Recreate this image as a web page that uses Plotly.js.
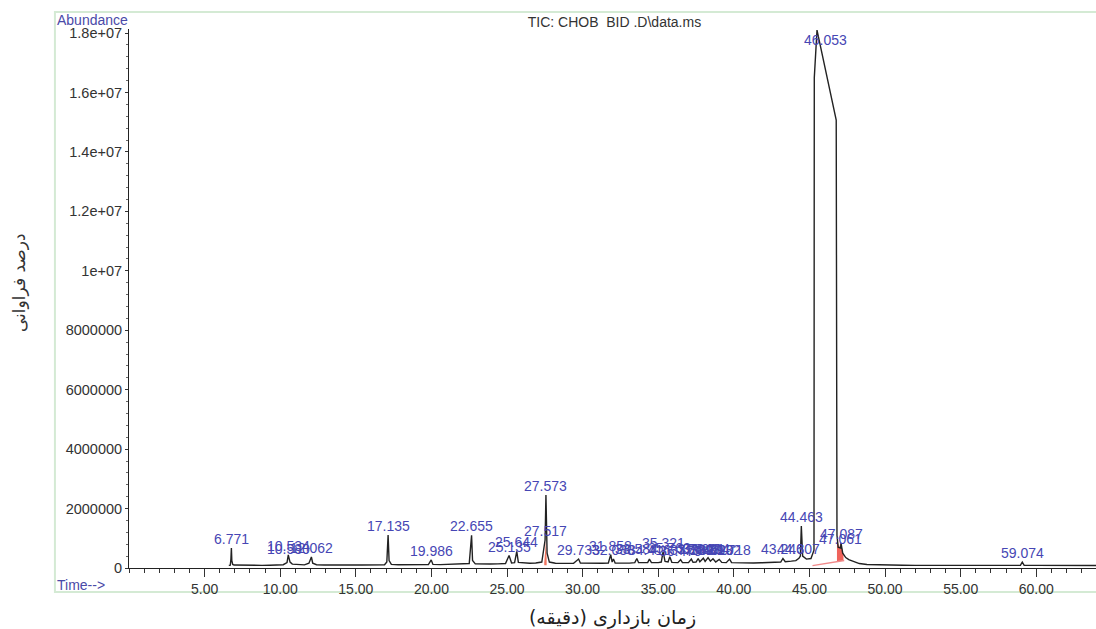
<!DOCTYPE html>
<html>
<head>
<meta charset="utf-8">
<script src="https://cdn.plot.ly/plotly-3.0.1.min.js"></script>
<style>html,body{margin:0;padding:0;background:#fff;}#chart{width:1096px;height:629px;}</style>
</head>
<body>
<div id="chart"></div>
<script>
// Total ion chromatogram (retention time in minutes, abundance)
const ticTime = [
  6.60, 6.70, 6.74, 6.771, 6.80, 6.86, 6.95, 7.30, 7.80, 8.30, 8.80, 9.30, 9.80,
  10.20, 10.45, 10.534, 10.580, 10.65, 10.80, 11.20, 11.60, 11.90, 12.062, 12.15, 12.40,
  12.90, 13.40, 13.90, 14.40, 14.90, 15.40, 15.90, 16.40, 16.90, 17.05, 17.135, 17.20,
  17.35, 17.80, 18.30, 18.80, 19.30, 19.80, 19.986, 20.10, 20.60, 21.10, 21.60, 22.10,
  22.50, 22.655, 22.72, 22.90, 23.40, 23.90, 24.40, 24.90, 25.135, 25.30, 25.50, 25.644,
  25.75, 26.10, 26.50, 26.90, 27.30, 27.517, 27.573, 27.65, 27.80, 28.20, 28.60, 29.00,
  29.40, 29.733, 29.85, 30.30, 30.80, 31.30, 31.70, 31.858, 31.95, 32.038, 32.15, 32.60,
  33.10, 33.45, 33.584, 33.70, 34.10, 34.30, 34.416, 34.55, 35.00, 35.20, 35.321, 35.45,
  35.65, 35.763, 35.90, 36.30, 36.479, 36.60, 37.00, 37.189, 37.30, 37.50, 37.642, 37.75,
  37.981, 38.10, 38.294, 38.45, 38.620, 38.80, 39.032, 39.20, 39.50, 39.718, 39.85, 40.30,
  40.80, 41.30, 41.80, 42.30, 42.80, 43.10, 43.246, 43.40, 43.80, 44.10, 44.307, 44.40,
  44.463, 44.55, 44.80, 45.10, 45.30, 45.32, 45.50, 46.77, 46.82, 46.90, 47.061, 47.087,
  47.20, 47.40, 47.60, 47.80, 48.00, 48.30, 48.80, 49.30, 49.80, 50.50, 51.20, 52.00,
  52.80, 53.60, 54.40, 55.20, 56.00, 56.80, 57.60, 58.40, 58.95, 59.074, 59.20, 60.00,
  60.80, 61.60, 62.40, 63.20, 63.95
];
const ticAbund = [
  90000, 95000, 300000, 670000, 250000, 120000, 100000, 95000, 90000, 92000, 88000, 95000, 100000,
  110000, 180000, 440000, 340000, 200000, 130000, 110000, 105000, 160000, 370000, 160000, 110000,
  100000, 95000, 100000, 97000, 100000, 102000, 100000, 105000, 110000, 200000, 1110000, 250000,
  120000, 110000, 105000, 110000, 108000, 115000, 270000, 120000, 115000, 118000, 120000, 125000,
  150000, 1100000, 250000, 140000, 130000, 135000, 140000, 150000, 420000, 170000, 180000, 560000,
  190000, 170000, 160000, 170000, 200000, 940000, 2460000, 500000, 200000, 160000, 150000, 155000,
  160000, 300000, 170000, 160000, 155000, 160000, 170000, 450000, 200000, 300000, 170000, 160000,
  165000, 180000, 320000, 180000, 170000, 180000, 300000, 180000, 180000, 200000, 550000, 220000,
  200000, 380000, 190000, 180000, 280000, 180000, 180000, 300000, 190000, 200000, 320000, 210000,
  330000, 220000, 350000, 230000, 310000, 200000, 290000, 190000, 180000, 300000, 180000, 170000,
  165000, 170000, 175000, 180000, 190000, 200000, 320000, 210000, 230000, 250000, 330000, 400000,
  1410000, 400000, 300000, 320000, 600000, 16500000, 18100000, 15070000, 1100000, 700000, 670000, 840000,
  500000, 350000, 280000, 250000, 200000, 150000, 120000, 110000, 100000, 95000, 92000, 90000,
  93000, 90000, 88000, 90000, 92000, 89000, 90000, 88000, 90000, 200000, 90000, 88000,
  87000, 88000, 86000, 85000, 85000
];

// Integrated peak areas (red shading) and the integration baseline
const area1Time = [27.46, 27.517, 27.573, 27.62, 27.62, 27.46];
const area1Abund = [180000, 700000, 900000, 300000, 90000, 90000];
const area2Time = [46.82, 46.95, 47.087, 47.25, 47.25, 46.82];
const area2Abund = [1000000, 700000, 840000, 450000, 240000, 220000];
const intBaseTime = [45.20, 47.30];
const intBaseAbund = [80000, 250000];

// Peak labels
const peakRT = [6.771, 10.534, 10.580, 12.062, 17.135, 19.986, 22.655, 25.135, 25.644, 27.517, 27.573,
  29.733, 31.858, 32.038, 33.584, 34.416, 35.321, 35.763, 36.479, 37.189, 37.642, 37.981, 38.294,
  38.620, 39.032, 39.718, 43.246, 44.307, 44.463, 46.053, 47.061, 47.087, 59.074];
const peakLabel = ['6.771', '10.534', '10.580', '12.062', '17.135', '19.986', '22.655', '25.135', '25.644',
  '27.517', '27.573', '29.733', '31.858', '32.038', '33.584', '34.416', '35.321', '35.763', '36.479',
  '37.189', '37.642', '37.981', '38.294', '38.620', '39.032', '39.718', '43.246', '44.307', '44.463',
  '46.053', '47.061', '47.087', '59.074'];

// Axis ticks
const xTickVals = [5, 10, 15, 20, 25, 30, 35, 40, 45, 50, 55, 60];
const yTickVals = [0, 2000000, 4000000, 6000000, 8000000, 10000000, 12000000, 14000000, 16000000, 18000000];
const yTickText = ['0', '2000000', '4000000', '6000000', '8000000', '1e+07', '1.2e+07', '1.4e+07', '1.6e+07', '1.8e+07'];

const Y_MAX = 18135000;
const LABEL_BLUE = '#4646b4';
const BASE_FONT = 'Liberation Sans, Arial, sans-serif';

function valueAt(t) {
  for (let i = 0; i < ticTime.length; i++) {
    if (Math.abs(ticTime[i] - t) < 1e-9) return ticAbund[i];
    if (ticTime[i] > t && i > 0) {
      const f = (t - ticTime[i - 1]) / (ticTime[i] - ticTime[i - 1]);
      return ticAbund[i - 1] + f * (ticAbund[i] - ticAbund[i - 1]);
    }
  }
  return 0;
}

const annotations = peakRT.map((rt, i) => {
  const v = valueAt(rt);
  const top = v > 0.85 * Y_MAX;
  return {
    x: rt, y: top ? Y_MAX : v, xref: 'x', yref: 'y',
    text: peakLabel[i], showarrow: false,
    xanchor: 'center', yanchor: top ? 'top' : 'bottom',
    yshift: -1,
    font: {family: BASE_FONT, size: 14, color: LABEL_BLUE}
  };
});

annotations.push(
  {text: 'Abundance', xref: 'paper', yref: 'paper', x: -0.0766, y: 1.0167, xanchor: 'left', yanchor: 'middle',
   showarrow: false, font: {family: BASE_FONT, size: 14, color: '#4a4aa8'}},
  {text: 'Time-->', xref: 'paper', yref: 'paper', x: -0.0766, y: -0.0315, xanchor: 'left', yanchor: 'middle',
   showarrow: false, font: {family: BASE_FONT, size: 14, color: '#4a4aa8'}},
  {text: 'درصد فراوانی', xref: 'paper', yref: 'paper', x: -0.113, y: 0.53, xanchor: 'center', yanchor: 'middle',
   textangle: -90, showarrow: false, font: {family: 'DejaVu Sans, sans-serif', size: 17, color: '#333'}}
);

const traces = [
  {x: area1Time, y: area1Abund, type: 'scatter', mode: 'lines', fill: 'toself',
   fillcolor: 'rgba(235,70,40,0.75)', line: {width: 0}, hoverinfo: 'skip'},
  {x: area2Time, y: area2Abund, type: 'scatter', mode: 'lines', fill: 'toself',
   fillcolor: 'rgba(235,60,50,0.8)', line: {width: 0}, hoverinfo: 'skip'},
  {x: intBaseTime, y: intBaseAbund, type: 'scatter', mode: 'lines',
   line: {color: '#f08a8a', width: 1.5}, hoverinfo: 'skip'},
  {x: ticTime, y: ticAbund, type: 'scatter', mode: 'lines',
   line: {color: '#222', width: 1.4}, name: 'TIC'}
];

const layout = {
  width: 1096, height: 629,
  margin: {l: 129, r: 0, t: 29, b: 61},
  paper_bgcolor: '#fff', plot_bgcolor: '#fff',
  showlegend: false,
  font: {family: BASE_FONT, size: 14, color: '#333'},
  title: {text: 'TIC: CHOB  BID .D\\data.ms', xref: 'paper', x: 0.502, xanchor: 'center',
          yref: 'container', y: 0.965, yanchor: 'middle',
          font: {family: BASE_FONT, size: 14, color: '#333'}},
  xaxis: {
    range: [0, 63.95], showgrid: false, zeroline: false,
    showline: true, linecolor: '#222', linewidth: 1,
    tickmode: 'array', tickvals: xTickVals, tickformat: '.2f',
    ticks: 'outside', ticklen: 8, tickcolor: '#333',
    minor: {tickmode: 'linear', tick0: 0, dtick: 1, ticks: 'outside', ticklen: 4, tickcolor: '#333'},
    tickfont: {family: BASE_FONT, size: 14, color: '#333'},
    title: {text: 'زمان بازداری (دقیقه)', standoff: 16,
            font: {family: 'DejaVu Sans, sans-serif', size: 19, color: '#222'}}
  },
  yaxis: {
    range: [0, Y_MAX], showgrid: false, zeroline: false,
    showline: true, linecolor: '#222', linewidth: 1,
    tickmode: 'array', tickvals: yTickVals, ticktext: yTickText,
    ticks: 'outside', ticklen: 3, tickcolor: '#333',
    minor: {tickmode: 'linear', tick0: 0, dtick: 400000, ticks: 'outside', ticklen: 2, tickcolor: '#666'},
    tickfont: {family: BASE_FONT, size: 14.5, color: '#333'}
  },
  annotations: annotations,
  shapes: [
    {type: 'rect', xref: 'paper', yref: 'paper', x0: -0.0766, x1: 1.02, y0: -0.0445, y1: 1.0315,
     line: {color: '#d4ead4', width: 2}, fillcolor: 'rgba(0,0,0,0)', layer: 'below'}
  ]
};

Plotly.newPlot('chart', traces, layout, {staticPlot: true, displayModeBar: false});
</script>
</body>
</html>
